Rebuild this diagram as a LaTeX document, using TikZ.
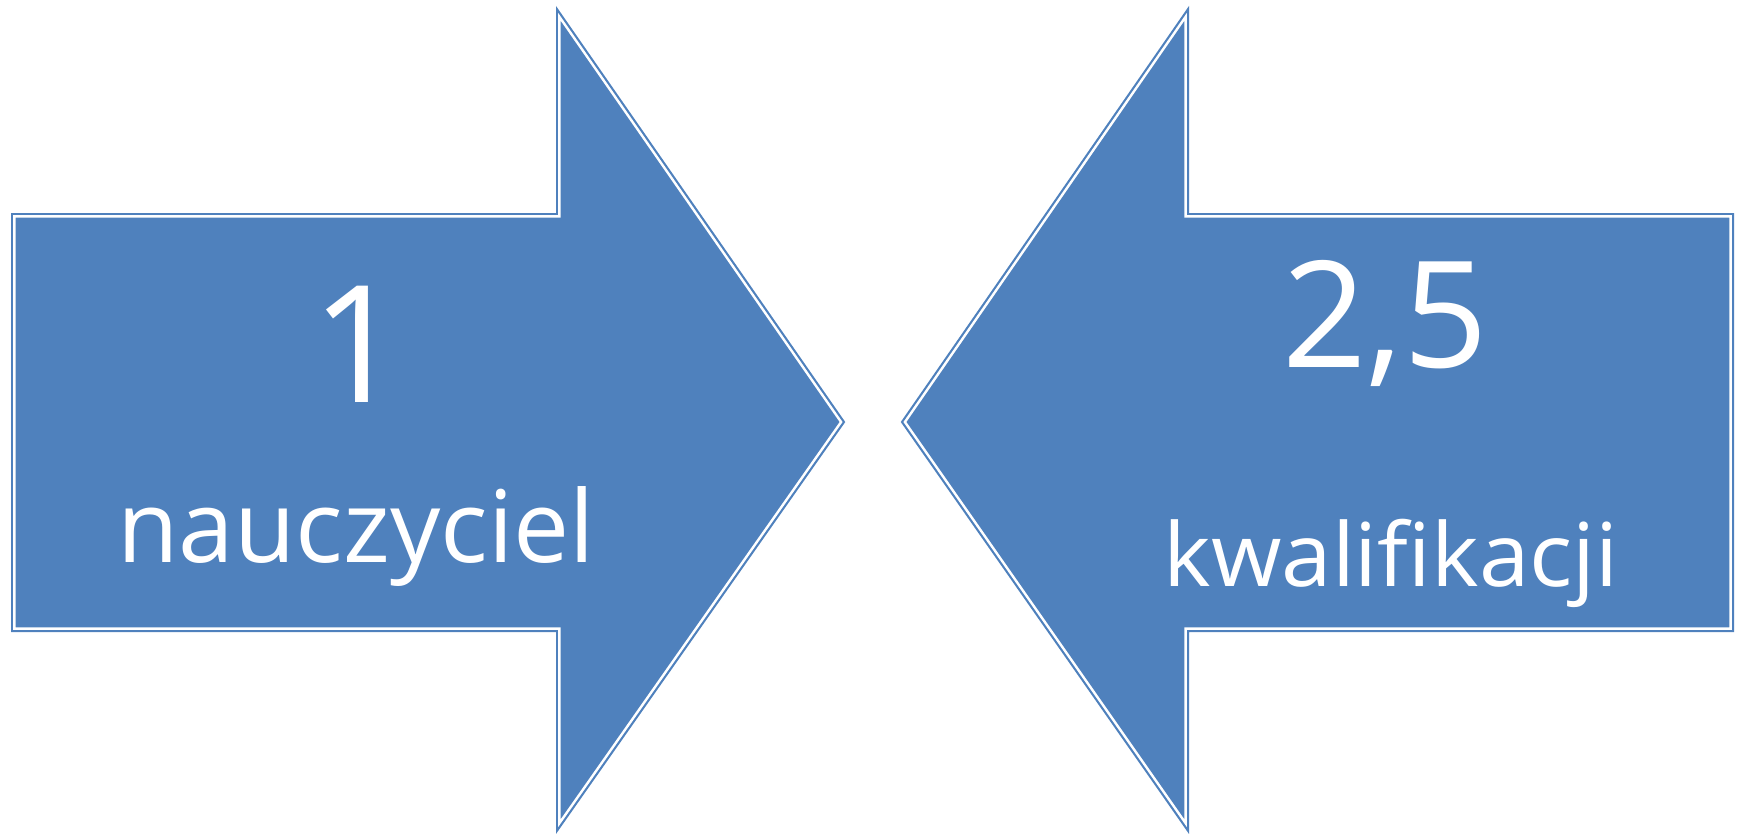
\documentclass[tikz,border=0pt]{standalone}
\usepackage{fontspec}
\setmainfont{Open Sans}
\definecolor{arrowblue}{HTML}{4F81BD}

\begin{document}
\begin{tikzpicture}[x=1pt,y=-1pt]
\tikzset{arrowbox/.style=
            {fill=arrowblue, draw=arrowblue, line width=2.2pt, double=white, double distance=2.4pt, miter limit=20},
         bignum/.style=
            {text=white, anchor=base, inner sep=0pt, font=\fontsize{#1}{#1}\selectfont}}
\useasboundingbox (0,0) rectangle (1741,835);
\path[arrowbox] (14.4,216.4) -- (559.4,216.4) -- (559.4,16.8) -- (841.1,422) -- (559.4,823.2) -- (559.4,628.6) -- (14.4,628.6) -- cycle;
\path[arrowbox] (1730.6,216.4) -- (1185.6,216.4) -- (1185.6,16.8) -- (904.9,422) -- (1185.6,823.2) -- (1185.6,628.6) -- (1730.6,628.6) -- cycle;
\node[bignum=163] (one) at (358,402) {1};
\node[bignum=100] (teacher) at (356,562) {nauczyciel};
\node[bignum=148] (ratio) at (1385,367) {2,5};
\node[bignum=88] (qual) at (1391,586) {\scalebox{1.03}[1]{kwalifikacji}};
\end{tikzpicture}
\end{document}
